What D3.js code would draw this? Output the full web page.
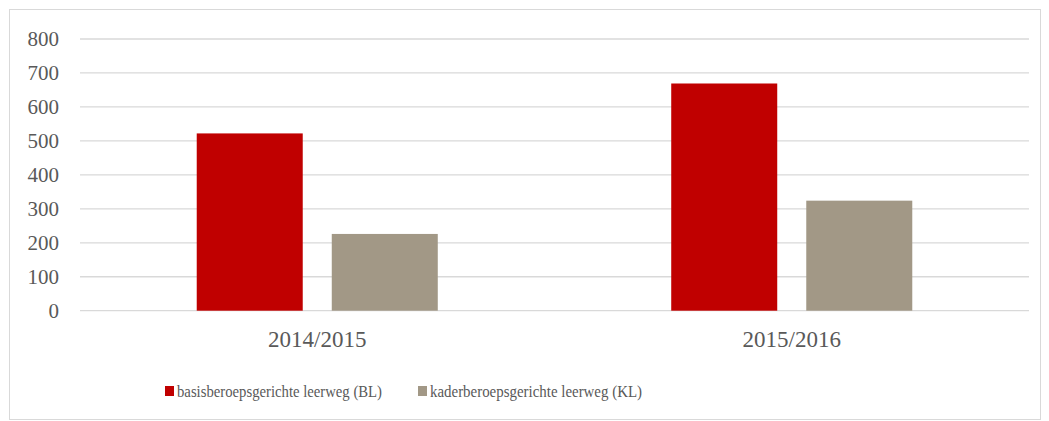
<!DOCTYPE html>
<html>
<head>
  <meta charset="utf-8">
  <title>Leerwegen</title>
  <style>
    body { margin: 0; background: #fff; }
    .grid line { stroke: #d9d9d9; stroke-width: 1.3px; }
  </style>
</head>
<body>
  <div id="chart"></div>

  <script src="https://cdn.jsdelivr.net/npm/d3@7"></script>
  <script>
    var years = ["2014/2015", "2015/2016"];
    var series = ["basisberoepsgerichte leerweg (BL)", "kaderberoepsgerichte leerweg (KL)"];
    var blValues = [522, 669];
    var klValues = [226, 324];
    var colors = ["#c00000", "#a29886"];
    var yTicks = [0, 100, 200, 300, 400, 500, 600, 700, 800];

    var font = "Liberation Serif";
    var textColor = "#595959";

    var width = 1049, height = 421;
    var margin = {top: 39, right: 20, bottom: 110, left: 80};

    var svg = d3.select("#chart").append("svg")
      .attr("width", width)
      .attr("height", height);

    // chart border
    svg.append("rect")
      .attr("x", 9.5).attr("y", 9.5)
      .attr("width", 1031).attr("height", 410)
      .attr("fill", "none")
      .attr("stroke", "#d9d9d9")
      .attr("stroke-width", 1);

    var x0 = d3.scaleBand()
      .domain(years)
      .range([margin.left, 1029])
      .paddingInner(0.492)
      .paddingOuter(0.246);

    var x1 = d3.scaleBand()
      .domain(series)
      .range([0, x0.bandwidth()])
      .paddingInner(0.215);

    var y = d3.scaleLinear()
      .domain([0, 800])
      .range([310.7, margin.top]);

    var grid = svg.append("g").attr("class", "grid");
    grid.selectAll("line")
      .data(yTicks)
      .enter().append("line")
      .attr("x1", margin.left)
      .attr("x2", 1029)
      .attr("y1", function(d) { return y(d); })
      .attr("y2", function(d) { return y(d); });

    svg.append("g").selectAll("text")
      .data(yTicks)
      .enter().append("text")
      .attr("x", 59)
      .attr("y", function(d) { return y(d); })
      .attr("dy", "0.35em")
      .attr("text-anchor", "end")
      .style("font-family", font)
      .style("font-size", "21px")
      .style("fill", textColor)
      .text(function(d) { return d; });

    var rows = years.map(function(yr, i) {
      return {year: yr, values: [blValues[i], klValues[i]]};
    });

    var groups = svg.append("g").selectAll("g")
      .data(rows)
      .enter().append("g")
      .attr("transform", function(d) { return "translate(" + x0(d.year) + ",0)"; });

    groups.selectAll("rect")
      .data(function(d) { return d.values.map(function(v, j) { return {s: series[j], v: v, c: colors[j]}; }); })
      .enter().append("rect")
      .attr("x", function(d) { return x1(d.s); })
      .attr("width", x1.bandwidth())
      .attr("y", function(d) { return y(d.v); })
      .attr("height", function(d) { return y(0) - y(d.v); })
      .attr("fill", function(d) { return d.c; });

    svg.append("g").selectAll("text")
      .data(years)
      .enter().append("text")
      .attr("x", function(d) { return x0(d) + x0.bandwidth() / 2; })
      .attr("y", 339)
      .attr("dy", "0.35em")
      .attr("text-anchor", "middle")
      .style("font-family", font)
      .style("font-size", "23px")
      .style("fill", textColor)
      .text(function(d) { return d; });

    // legend
    var legendX = [165, 418];
    var legendW = [205, 212];
    var legend = svg.append("g").selectAll("g")
      .data(series)
      .enter().append("g")
      .attr("transform", function(d, i) { return "translate(" + legendX[i] + ",391)"; });

    legend.append("rect")
      .attr("x", 0).attr("y", -5)
      .attr("width", 9).attr("height", 10)
      .attr("fill", function(d, i) { return colors[i]; });

    legend.append("text")
      .attr("x", 12)
      .attr("y", 0)
      .attr("dy", "0.35em")
      .attr("textLength", function(d, i) { return legendW[i]; })
      .attr("lengthAdjust", "spacingAndGlyphs")
      .style("font-family", font)
      .style("font-size", "17px")
      .style("fill", textColor)
      .text(function(d) { return d; });
  </script>
</body>
</html>
